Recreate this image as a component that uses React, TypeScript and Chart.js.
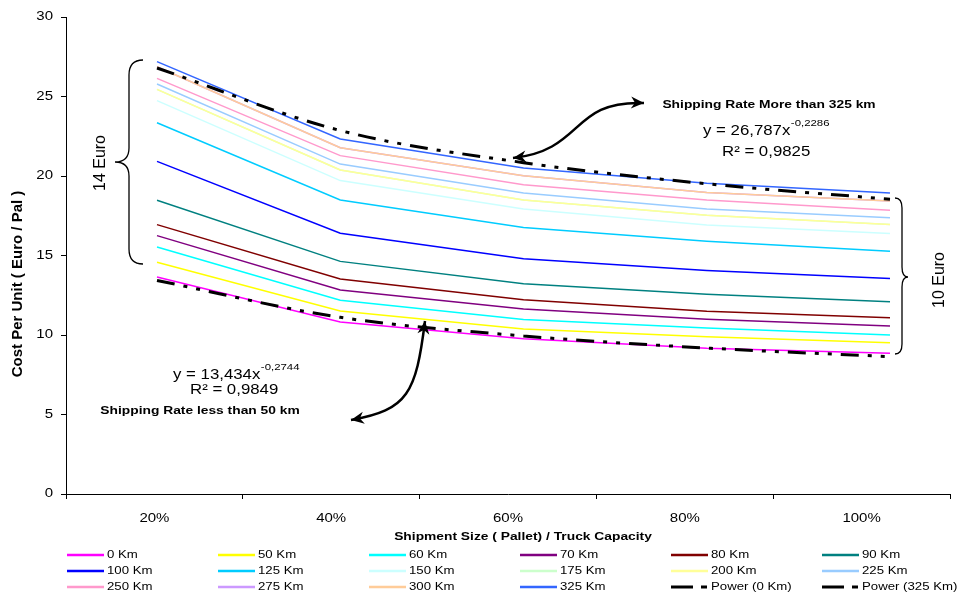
import { useEffect, useRef } from "react";
import { Chart, registerables } from "chart.js";
Chart.register(...registerables);

// ---------- data ----------
const categories = ["20%", "40%", "60%", "80%", "100%"];
const seriesNames = [
  "0 Km", "50 Km", "60 Km", "70 Km", "80 Km", "90 Km",
  "100 Km", "125 Km", "150 Km", "175 Km", "200 Km", "225 Km",
  "250 Km", "275 Km", "300 Km", "325 Km", "Power (0 Km)", "Power (325 Km)",
];
const km0 = [13.65, 10.82, 9.77, 9.16, 8.85];
const km50 = [14.57, 11.51, 10.37, 9.89, 9.52];
const km60 = [15.53, 12.18, 10.97, 10.44, 10.0];
const km70 = [16.25, 12.83, 11.63, 10.99, 10.57];
const km80 = [16.94, 13.52, 12.22, 11.49, 11.09];
const km90 = [18.47, 14.63, 13.22, 12.56, 12.09];
const km100 = [20.92, 16.4, 14.79, 14.05, 13.55];
const km125 = [23.35, 18.49, 16.76, 15.89, 15.27];
const km150 = [24.74, 19.71, 17.93, 16.92, 16.38];
const km175 = [25.45, 20.38, 18.49, 17.53, 16.95];
const km200 = [25.45, 20.38, 18.49, 17.53, 16.95];
const km225 = [25.79, 20.75, 18.93, 17.92, 17.37];
const km250 = [26.14, 21.28, 19.45, 18.49, 17.84];
const km275 = [26.87, 21.78, 20.01, 18.97, 18.42];
const km300 = [26.87, 21.78, 20.01, 18.97, 18.42];
const km325 = [27.19, 22.33, 20.5, 19.54, 18.93];
const power0 = [13.43, 11.11, 9.94, 9.18, 8.64];
const power325 = [26.79, 22.86, 20.84, 19.51, 18.54];
const seriesValues = [
  km0, km50, km60, km70, km80, km90, km100, km125, km150, km175, km200, km225,
  km250, km275, km300, km325, power0, power325,
];
const seriesColors = [
  "#FF00FF", "#FFFF00", "#00FFFF", "#800080", "#800000", "#008080",
  "#0000FF", "#00CCFF", "#CCFFFF", "#CCFFCC", "#FFFF99", "#99CCFF",
  "#FF99CC", "#CC99FF", "#FFCC99", "#3366FF", "#000000", "#000000",
];
const yMin = 0;
const yMax = 30;
const yStep = 5;
const yTitle = "Cost Per Unit ( Euro / Pal )";
const xTitle = "Shipment Size ( Pallet) / Truck Capacity";
const upperLabel = "Shipping Rate More than 325 km";
const upperEq = "y = 26,787x";
const upperExp = "-0,2286";
const upperR2 = "R\u00B2 = 0,9825";
const lowerLabel = "Shipping Rate less than 50 km";
const lowerEq = "y = 13,434x";
const lowerExp = "-0,2744";
const lowerR2 = "R\u00B2 = 0,9849";
const leftBraceLabel = "14 Euro";
const rightBraceLabel = "10 Euro";

// ---------- drawing helpers ----------
const SX = 1.2;
const FF = '"Liberation Sans", Arial, sans-serif';
const TREND_DASH = [18, 9, 4, 9, 4, 9];

function txt(
  ctx: CanvasRenderingContext2D, s: string, x: number, y: number, font: string,
  align: CanvasTextAlign = "center", rot = 0, sx = SX
) {
  ctx.save();
  ctx.translate(x, y);
  ctx.scale(sx, 1);
  if (rot) ctx.rotate(rot);
  ctx.font = font;
  ctx.fillStyle = "#000";
  ctx.textAlign = align;
  ctx.textBaseline = "middle";
  ctx.fillText(s, 0, 0);
  ctx.restore();
}
function textW(ctx: CanvasRenderingContext2D, s: string, font: string, sx = SX) {
  ctx.save();
  ctx.font = font;
  const w = ctx.measureText(s).width * sx;
  ctx.restore();
  return w;
}
function eqWithExp(ctx: CanvasRenderingContext2D, main: string, exp: string, x: number, y: number) {
  const f = `14px ${FF}`;
  txt(ctx, main, x, y, f, "left");
  const w = textW(ctx, main, f);
  txt(ctx, exp, x + w + 0.5, y - 8, `9.5px ${FF}`, "left");
}
function arrowHead(ctx: CanvasRenderingContext2D, tx: number, ty: number, fx: number, fy: number) {
  const a = Math.atan2(ty - fy, tx - fx);
  const len = 13, half = 6, notch = 9;
  const c = Math.cos(a), s = Math.sin(a);
  ctx.beginPath();
  ctx.moveTo(tx, ty);
  ctx.lineTo(tx - len * c + half * s, ty - len * s - half * c);
  ctx.lineTo(tx - notch * c, ty - notch * s);
  ctx.lineTo(tx - len * c - half * s, ty - len * s + half * c);
  ctx.closePath();
  ctx.fill();
}
function bezierArrow(
  ctx: CanvasRenderingContext2D, p0: number[], p1: number[], p2: number[], p3: number[],
  headStart: boolean, headEnd: boolean
) {
  ctx.save();
  ctx.strokeStyle = "#000";
  ctx.fillStyle = "#000";
  ctx.lineWidth = 2.5;
  ctx.beginPath();
  ctx.moveTo(p0[0], p0[1]);
  ctx.bezierCurveTo(p1[0], p1[1], p2[0], p2[1], p3[0], p3[1]);
  ctx.stroke();
  if (headStart) arrowHead(ctx, p0[0], p0[1], p1[0], p1[1]);
  if (headEnd) arrowHead(ctx, p3[0], p3[1], p2[0], p2[1]);
  ctx.restore();
}

const annotations = {
  id: "annotations",
  afterDatasetsDraw(chart: any) {
    const ctx: CanvasRenderingContext2D = chart.ctx;
    // braces
    ctx.save();
    ctx.strokeStyle = "#000";
    ctx.lineWidth = 1.3;
    ctx.beginPath();
    ctx.moveTo(135, 52);
    ctx.quadraticCurveTo(121, 52, 121, 67);
    ctx.lineTo(121, 140);
    ctx.quadraticCurveTo(121, 154, 107, 154);
    ctx.quadraticCurveTo(121, 154, 121, 168);
    ctx.lineTo(121, 241);
    ctx.quadraticCurveTo(121, 256, 135, 256);
    ctx.stroke();
    ctx.beginPath();
    ctx.moveTo(887, 190);
    ctx.quadraticCurveTo(894, 190, 894, 200);
    ctx.lineTo(894, 259);
    ctx.quadraticCurveTo(894, 269, 900, 269);
    ctx.quadraticCurveTo(894, 269, 894, 279);
    ctx.lineTo(894, 336);
    ctx.quadraticCurveTo(894, 346, 887, 346);
    ctx.stroke();
    ctx.restore();
    // arrows
    bezierArrow(ctx, [505, 150], [577, 142], [562, 92], [636, 95], true, true);
    bezierArrow(ctx, [417, 313], [408, 385], [400, 402], [343, 412], true, true);
  },
  afterDraw(chart: any) {
    const ctx: CanvasRenderingContext2D = chart.ctx;
    const ys = chart.scales.y;
    const xc = chart.scales.xc;
    const area = chart.chartArea;
    // tick labels
    ys.ticks.forEach((t: any, i: number) => {
      txt(ctx, String(t.value), ys.right - 13, ys.getPixelForTick(i), `12.5px ${FF}`, "right");
    });
    categories.forEach((c, i) => {
      txt(ctx, c, xc.getPixelForTick(i), area.bottom + 25, `12.5px ${FF}`, "center");
    });
    // axis titles
    txt(ctx, yTitle, 10, 276, `bold 15px ${FF}`, "center", -Math.PI / 2, 1);
    txt(ctx, xTitle, 515, 529, `bold 11.5px ${FF}`, "center");
    // brace labels
    txt(ctx, leftBraceLabel, 92, 155, `16px ${FF}`, "center", -Math.PI / 2, 1.05);
    txt(ctx, rightBraceLabel, 931, 272, `16px ${FF}`, "center", -Math.PI / 2, 1.05);
    // equations
    txt(ctx, upperLabel, 761, 97, `bold 11.5px ${FF}`, "center");
    eqWithExp(ctx, upperEq, upperExp, 695, 123);
    txt(ctx, upperR2, 714, 144, `14px ${FF}`, "left");
    eqWithExp(ctx, lowerEq, lowerExp, 165, 367);
    txt(ctx, lowerR2, 182, 382, `14px ${FF}`, "left");
    txt(ctx, lowerLabel, 192, 403, `bold 11.5px ${FF}`, "center");
    // legend
    chart.data.datasets.forEach((ds: any, i: number) => {
      const col = i % 6;
      const row = Math.floor(i / 6);
      const x0 = 59 + 151 * col;
      const y0 = 547 + 16 * row;
      ctx.save();
      ctx.strokeStyle = ds.borderColor;
      const dashed = ds.borderDash && ds.borderDash.length;
      ctx.lineWidth = dashed ? 3 : 2.5;
      if (dashed) ctx.setLineDash([22, 8, 6, 8]);
      ctx.beginPath();
      ctx.moveTo(x0, y0);
      ctx.lineTo(x0 + 37, y0);
      ctx.stroke();
      ctx.restore();
      txt(ctx, ds.label, x0 + 40, y0, `11px ${FF}`, "left");
    });
  },
};

export default function App() {
  const ref = useRef<HTMLCanvasElement | null>(null);
  useEffect(() => {
    if (!ref.current) return;
    const n = seriesNames.length;
    const datasets = seriesNames.map((name, i) => {
      const trend = name.startsWith("Power");
      return {
        label: name,
        data: seriesValues[i].map((v, k) => ({ x: k + 1, y: v })),
        borderColor: seriesColors[i],
        backgroundColor: seriesColors[i],
        borderWidth: trend ? 3 : 1.5,
        borderDash: trend ? TREND_DASH : [],
        tension: trend ? 0.4 : 0,
        cubicInterpolationMode: trend ? ("monotone" as const) : ("default" as const),
        pointRadius: 0,
        fill: false,
        order: n - i,
      };
    });
    const chart = new Chart(ref.current, {
      type: "line",
      data: { datasets },
      options: {
        animation: false,
        responsive: false,
        devicePixelRatio: 1,
        layout: { padding: { left: 0, right: 8, top: 9, bottom: 0 } },
        plugins: { legend: { display: false }, tooltip: { enabled: false } },
        scales: {
          x: { type: "linear", min: 0.5034, max: 5.3274, display: false },
          xc: {
            type: "category",
            labels: categories,
            position: "bottom",
            offset: true,
            grid: { offset: true, drawOnChartArea: false, tickLength: 5, color: "#000" },
            border: { color: "#000", width: 1 },
            ticks: { display: false },
            afterFit: (s: any) => { s.height = 102; },
          },
          y: {
            min: yMin,
            max: yMax,
            ticks: { stepSize: yStep, display: false },
            grid: { drawOnChartArea: false, tickLength: 5, color: "#000" },
            border: { color: "#000", width: 1 },
            afterFit: (s: any) => { s.width = 58; },
          },
        },
      } as any,
      plugins: [annotations],
    });
    return () => chart.destroy();
  }, []);
  return (
    <div style={{ position: "absolute", left: 8, top: 8, width: 950, height: 588 }}>
      <canvas ref={ref} width={950} height={588} />
    </div>
  );
}
